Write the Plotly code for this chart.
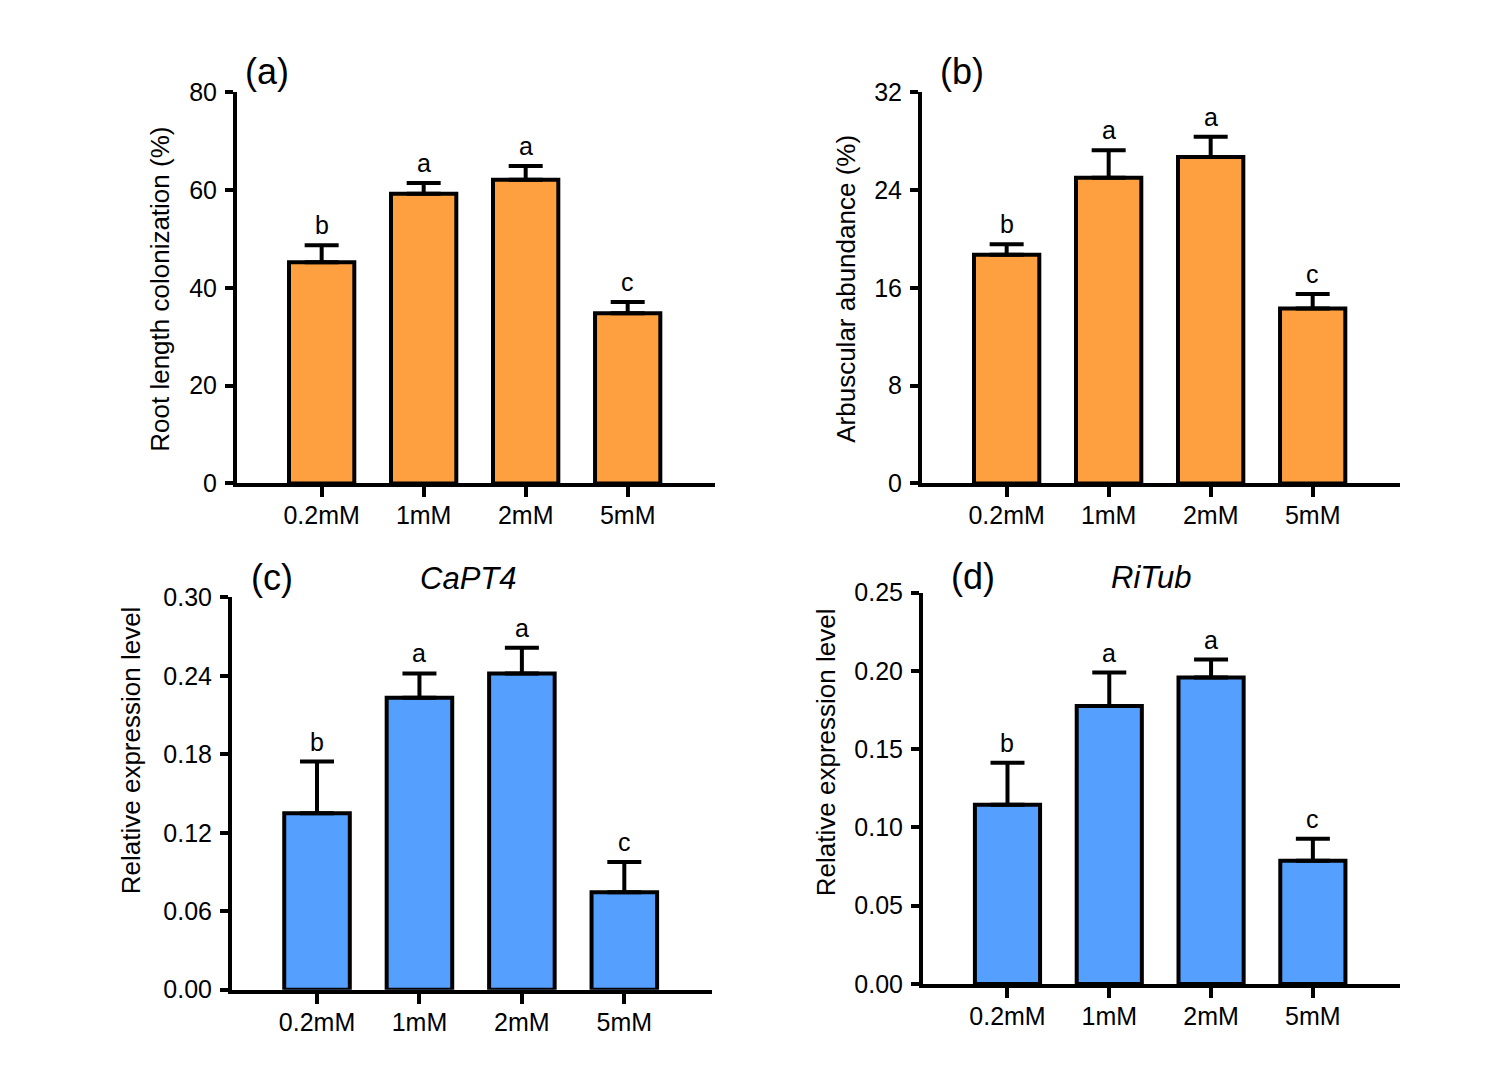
import plotly.graph_objects as go

# data
doses = ["0.2mM", "1mM", "2mM", "5mM"]

root_colonization = [45.2, 59.2, 62.1, 34.8]
root_colonization_err = [3.5, 2.2, 2.8, 2.3]
root_letters = ["b", "a", "a", "c"]

arbuscular_abundance = [18.7, 25.0, 26.7, 14.3]
arbuscular_abundance_err = [0.85, 2.25, 1.65, 1.2]
arbuscular_letters = ["b", "a", "a", "c"]

capt4_expr = [0.1349, 0.2232, 0.2418, 0.0746]
capt4_err = [0.0396, 0.0186, 0.0197, 0.0231]
capt4_letters = ["b", "a", "a", "c"]

ritub_expr = [0.1144, 0.1775, 0.1957, 0.0786]
ritub_err = [0.0269, 0.0214, 0.0115, 0.0141]
ritub_letters = ["b", "a", "a", "c"]

ORANGE = "#FFA040"
BLUE = "#55A0FF"
FONT = "Arial, Liberation Sans, sans-serif"

# the page body keeps its default 8px margin, so the figure is made
# 16px smaller than the window and positions are given in window pixels
PAGE_MARGIN = 8
W, H = 1489 - 2 * PAGE_MARGIN, 1075 - 2 * PAGE_MARGIN


def px_x(p):
    return (p - PAGE_MARGIN) / W


def px_y(p):
    return 1 - (p - PAGE_MARGIN) / H


panels = [
    # values, errors, letters, colour, x-domain px, y-domain px (bottom, top), yrange, dtick, format
    dict(v=root_colonization, e=root_colonization_err, l=root_letters, c=ORANGE,
         xd=(237, 715), yd=(482, 80), yr=(0, 80), dt=20, fmt="d"),
    dict(v=arbuscular_abundance, e=arbuscular_abundance_err, l=arbuscular_letters, c=ORANGE,
         xd=(922, 1400), yd=(482, 80), yr=(0, 32), dt=8, fmt="d"),
    dict(v=capt4_expr, e=capt4_err, l=capt4_letters, c=BLUE,
         xd=(232, 712), yd=(1002, 599), yr=(0, 0.30), dt=0.06, fmt=".2f"),
    dict(v=ritub_expr, e=ritub_err, l=ritub_letters, c=BLUE,
         xd=(923, 1400), yd=(996, 594), yr=(0, 0.25), dt=0.05, fmt=".2f"),
]

fig = go.Figure()
annotations = []
layout = {}

for n, p in enumerate(panels, start=1):
    sx = "" if n == 1 else str(n)
    fig.add_trace(go.Bar(
        x=doses, y=p["v"],
        xaxis="x" + sx, yaxis="y" + sx,
        width=0.64,
        marker=dict(color=p["c"], line=dict(color="black", width=4)),
        error_y=dict(type="data", array=p["e"], arrayminus=[0] * 4, symmetric=False,
                     color="black", thickness=4, width=17),
        showlegend=False,
    ))
    layout["xaxis" + sx] = dict(
        domain=[px_x(p["xd"][0]), px_x(p["xd"][1])],
        anchor="y" + sx, range=[-0.83, 3.856],
        showline=True, linecolor="black", linewidth=4,
        ticks="outside", ticklen=10, tickwidth=4, tickcolor="black",
        ticklabelstandoff=-3,
        tickfont=dict(family=FONT, size=25, color="black"),
        showgrid=False, zeroline=False, fixedrange=True,
    )
    layout["yaxis" + sx] = dict(
        domain=[px_y(p["yd"][0]), px_y(p["yd"][1])],
        anchor="x" + sx, range=list(p["yr"]), dtick=p["dt"], tick0=0,
        tickformat=p["fmt"],
        showline=True, linecolor="black", linewidth=4,
        ticks="outside", ticklen=8, tickwidth=4, tickcolor="black",
        ticklabelstandoff=3,
        tickfont=dict(family=FONT, size=25, color="black"),
        showgrid=False, zeroline=False, fixedrange=True,
    )
    for d, v, e, t in zip(doses, p["v"], p["e"], p["l"]):
        annotations.append(dict(
            x=d, y=v + e, xref="x" + sx, yref="y" + sx, text=t, showarrow=False,
            yanchor="bottom", yshift=4,
            font=dict(family=FONT, size=25, color="black"),
        ))

# axis titles
for text, cx, cy in [("Root length colonization (%)", 160, 283),
                     ("Arbuscular abundance (%)", 846, 282),
                     ("Relative expression level", 131, 756),
                     ("Relative expression level", 826, 758)]:
    annotations.append(dict(x=px_x(cx), y=px_y(cy), xref="paper", yref="paper",
                            text=text, textangle=-90, showarrow=False,
                            xanchor="center", yanchor="middle",
                            font=dict(family=FONT, size=26, color="black")))

# panel labels
for text, cx, cy in [("(a)", 267, 59), ("(b)", 962, 59), ("(c)", 272, 579), ("(d)", 973, 578)]:
    annotations.append(dict(x=px_x(cx), y=px_y(cy), xref="paper", yref="paper",
                            text=text, showarrow=False, xanchor="center", yanchor="middle",
                            font=dict(family=FONT, size=36, color="black")))

# gene names
for text, cx, cy in [("<i>CaPT4</i>", 468, 580), ("<i>RiTub</i>", 1151, 579)]:
    annotations.append(dict(x=px_x(cx), y=px_y(cy), xref="paper", yref="paper",
                            text=text, showarrow=False, xanchor="center", yanchor="middle",
                            font=dict(family=FONT, size=31, color="black")))

fig.update_layout(
    width=W, height=H,
    margin=dict(l=0, r=0, t=0, b=0),
    paper_bgcolor="white", plot_bgcolor="white",
    annotations=annotations,
    **layout,
)

fig.write_html("out.html")
